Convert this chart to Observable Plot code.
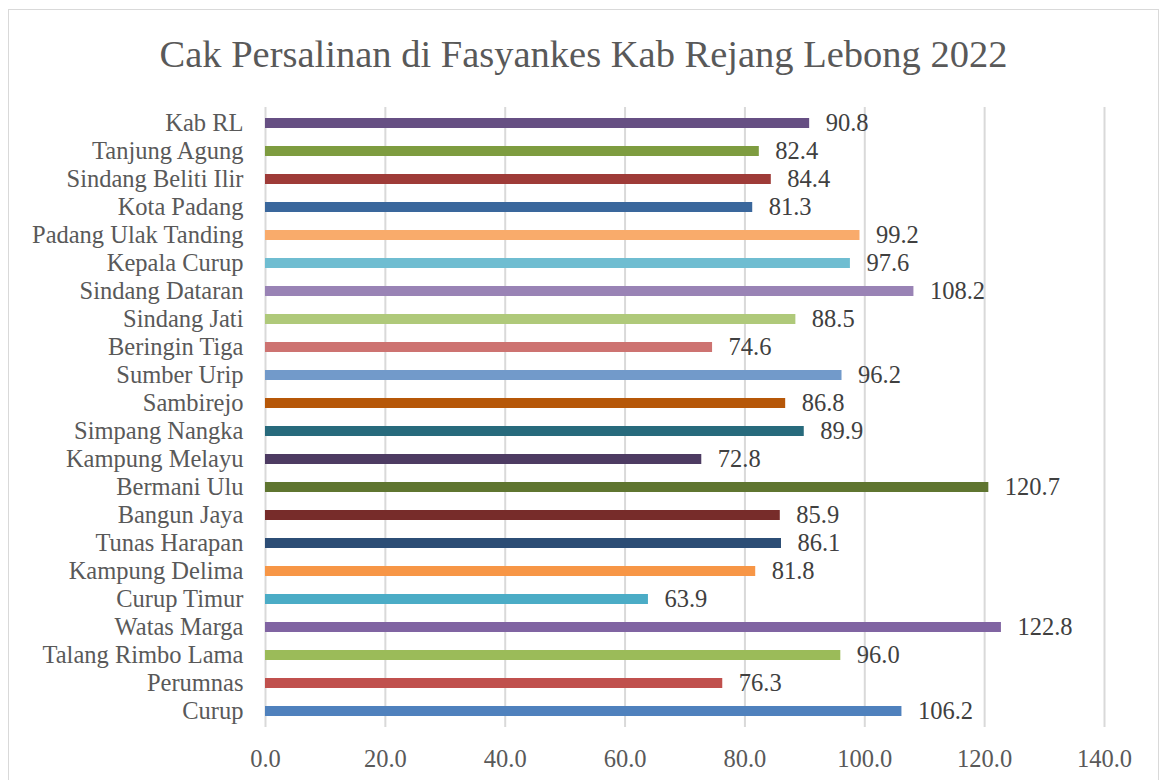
<!DOCTYPE html>
<html>
<head>
<meta charset="utf-8">
<script src="https://cdn.jsdelivr.net/npm/d3@7"></script>
<script src="https://cdn.jsdelivr.net/npm/@observablehq/plot@0.6"></script>
<style>
  html, body { margin: 0; padding: 0; background: #fff; }
  body { width: 1162px; height: 780px; position: relative; overflow: hidden; font-family: "Liberation Serif", serif; }
  #frame { position: absolute; left: 8px; top: 9px; width: 1151px; height: 800px; border: 1.5px solid #d9d9d9; box-sizing: border-box; }
  #title { position: absolute; left: 8px; width: 1151px; top: 31px; text-align: center; font-size: 38.5px; color: #595959; font-family: "Liberation Serif", serif; line-height: 46px; }
  #chart { position: absolute; left: 0; top: 0; }
</style>
</head>
<body>
<div id="frame"></div>
<div id="title">Cak Persalinan di Fasyankes Kab Rejang Lebong 2022</div>
<div id="chart"></div>
<script>
const categories = ["Kab RL", "Tanjung Agung", "Sindang Beliti Ilir", "Kota Padang", "Padang Ulak Tanding", "Kepala Curup", "Sindang Dataran", "Sindang Jati", "Beringin Tiga", "Sumber Urip", "Sambirejo", "Simpang Nangka", "Kampung Melayu", "Bermani Ulu", "Bangun Jaya", "Tunas Harapan", "Kampung Delima", "Curup Timur", "Watas Marga", "Talang Rimbo Lama", "Perumnas", "Curup"];
const values = [90.8, 82.4, 84.4, 81.3, 99.2, 97.6, 108.2, 88.5, 74.6, 96.2, 86.8, 89.9, 72.8, 120.7, 85.9, 86.1, 81.8, 63.9, 122.8, 96.0, 76.3, 106.2];
const colors = ["#664F83", "#7E9C40", "#9E3B38", "#3A679C", "#F9AB6B", "#6FBDD1", "#9983B5", "#AFC97A", "#CD7371", "#729ACA", "#B65708", "#276A7C", "#4D3B62", "#5F7530", "#772C2A", "#2C4D75", "#F79646", "#4BACC6", "#8064A2", "#9BBB59", "#C0504D", "#4F81BD"];
const xTicks = [0, 20, 40, 60, 80, 100, 120, 140];

const data = categories.map((c, i) => ({name: c, value: values[i], color: colors[i]}));

const chart = Plot.plot({
  width: 1162,
  height: 780,
  marginLeft: 265,
  marginRight: 58,
  marginTop: 107,
  marginBottom: 53,
  style: {fontFamily: "'Liberation Serif', serif", fontSize: "24px", background: "transparent", overflow: "visible"},
  x: {domain: [0, 140], ticks: xTicks, tickFormat: d3.format(".1f")},
  y: {domain: categories, paddingInner: 0.65, paddingOuter: 0.325},
  marks: [
    Plot.gridX(xTicks, {stroke: "#d9d9d9", strokeOpacity: 1, strokeWidth: 2}),
    Plot.barX(data, {y: "name", x: "value", fill: d => d.color}),
    Plot.text(data, {y: "name", x: "value", text: d => d3.format(".1f")(d.value), dx: 16, textAnchor: "start", fill: "#404040", fontSize: 24.5}),
    Plot.axisX({ticks: xTicks, tickSize: 0, tickPadding: 22, fontSize: 24.5, color: "#595959", tickFormat: d3.format(".1f"), label: null}),
    Plot.axisY({tickSize: 0, tickPadding: 22, fontSize: 24.5, color: "#595959", label: null})
  ]
});
document.getElementById("chart").appendChild(chart);
</script>
</body>
</html>
